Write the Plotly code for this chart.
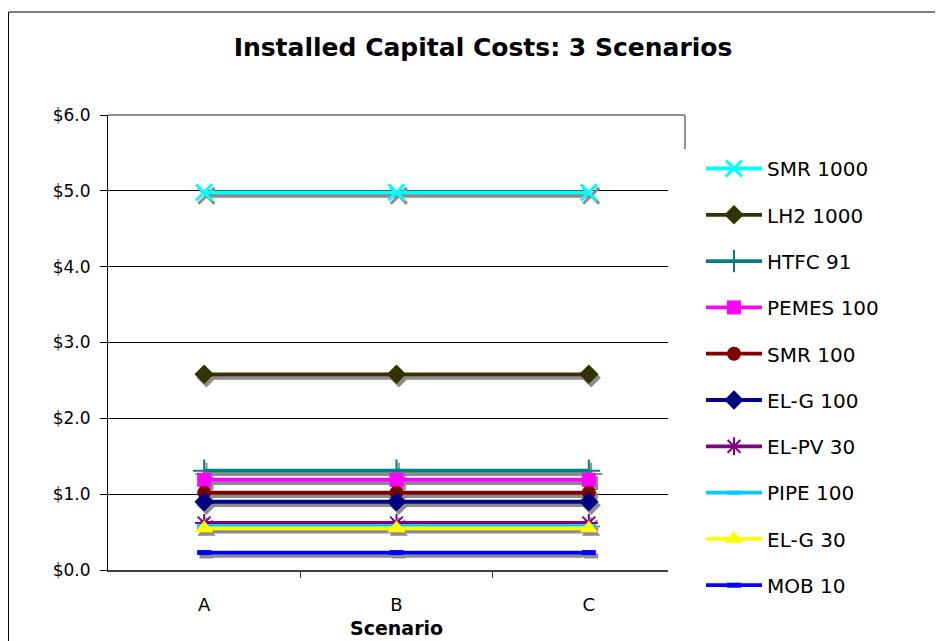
import plotly.graph_objects as go

scenarios = ["A", "B", "C"]
series_names = ["SMR 1000", "LH2 1000", "HTFC 91", "PEMES 100", "SMR 100",
                "EL-G 100", "EL-PV 30", "PIPE 100", "EL-G 30", "MOB 10"]
smr_1000 = [4.98, 4.98, 4.98]
lh2_1000 = [2.58, 2.58, 2.58]
htfc_91 = [1.31, 1.31, 1.31]
pemes_100 = [1.19, 1.19, 1.19]
smr_100 = [1.02, 1.02, 1.02]
elg_100 = [0.90, 0.90, 0.90]
elpv_30 = [0.62, 0.62, 0.62]
pipe_100 = [0.58, 0.58, 0.58]
elg_30 = [0.55, 0.55, 0.55]
mob_10 = [0.23, 0.23, 0.23]
y_ticks = [0, 1, 2, 3, 4, 5, 6]

series_values = [smr_1000, lh2_1000, htfc_91, pemes_100, smr_100,
                 elg_100, elpv_30, pipe_100, elg_30, mob_10]

styles = [
    dict(color="#00FFFF", symbol="x-thin-open", size=16, mlw=3),
    dict(color="#333300", symbol="diamond", size=15, mlw=0),
    dict(color="#008080", symbol="cross-thin-open", size=16, mlw=2),
    dict(color="#FF00FF", symbol="square", size=14, mlw=0),
    dict(color="#800000", symbol="circle", size=14, mlw=0),
    dict(color="#000080", symbol="diamond", size=15, mlw=0),
    dict(color="#800080", symbol="asterisk-open", size=15, mlw=2),
    dict(color="#00CCFF", symbol="line-ew-open", size=10, mlw=4),
    dict(color="#FFFF00", symbol="triangle-up", size=16, mlw=0),
    dict(color="#0000FF", symbol="line-ew-open", size=10, mlw=5),
]

x_pos = list(range(len(scenarios)))
shadow_dx = 0.012
shadow_dy = 0.045

fig = go.Figure()
for name, vals, st in zip(series_names, series_values, styles):
    fig.add_trace(go.Scatter(
        x=[x + shadow_dx for x in x_pos], y=[v - shadow_dy for v in vals],
        mode="lines+markers", showlegend=False, hoverinfo="skip",
        legendgroup=name,
        line=dict(color="#8c8c8c", width=3.8),
        marker=dict(symbol=st["symbol"], size=st["size"], color="#8c8c8c",
                    line=dict(color="#8c8c8c", width=st["mlw"])),
    ))
    fig.add_trace(go.Scatter(
        x=x_pos, y=vals, name=name, mode="lines+markers", legendgroup=name,
        line=dict(color=st["color"], width=3.8),
        marker=dict(symbol=st["symbol"], size=st["size"], color=st["color"],
                    line=dict(color=st["color"], width=st["mlw"])),
    ))

# the page body has an 8px margin; the figure is sized to fill the rest
OFF = 8
FW, FH = 943 - OFF, 641 - OFF
PL, PR, PT, PB = 108 - OFF, 685 - OFF, 115 - OFF, 570 - OFF
W, H = PR - PL, PB - PT


def px_x(p):
    return (p - OFF - PL) / W


def px_y(p):
    return (PB - (p - OFF)) / H


fig.update_layout(
    width=FW, height=FH,
    margin=dict(l=PL, r=FW - PR, t=PT, b=FH - PB),
    paper_bgcolor="white", plot_bgcolor="white",
    font=dict(family="DejaVu Sans", size=17, color="black"),
    title=dict(text="<b>Installed Capital Costs: 3 Scenarios</b>",
               x=(483 - OFF) / FW, xanchor="center",
               y=1 - (47 - OFF) / FH, yanchor="middle",
               font=dict(family="DejaVu Sans", size=25, color="black")),
    showlegend=True,
    legend=dict(x=px_x(668), xanchor="left", y=px_y(149), yanchor="top",
                bgcolor="white", borderwidth=0, tracegroupgap=17.3,
                itemwidth=56, indentation=33, maxheight=700,
                font=dict(family="DejaVu Sans", size=20),
                itemclick=False, itemdoubleclick=False),
    xaxis=dict(range=[-0.5, 2.5], tickvals=x_pos, ticktext=scenarios,
               ticks="", showgrid=False, zeroline=False,
               showline=True, linecolor="#404040", linewidth=2,
               ticklabelstandoff=17, tickfont=dict(size=18),
               minor=dict(tickvals=[0.5, 1.5], ticks="outside", ticklen=6,
                          tickcolor="#404040", tickwidth=1, showgrid=False),
               fixedrange=True),
    yaxis=dict(range=[0, 6], tickvals=y_ticks,
               ticktext=["$%.1f" % v for v in y_ticks],
               ticks="outside", ticklen=7, tickcolor="black",
               tickfont=dict(size=17),
               showgrid=True, gridcolor="black", gridwidth=1,
               zeroline=False, showline=True, linecolor="black", linewidth=1,
               ticklabelstandoff=6, fixedrange=True),
    shapes=[
        dict(type="line", xref="paper", yref="paper", x0=0, x1=1, y0=1, y1=1,
             line=dict(color="#909090", width=2), layer="above"),
        dict(type="line", xref="paper", yref="paper", x0=1, x1=1, y0=0, y1=1,
             line=dict(color="#909090", width=2), layer="above"),
        dict(type="rect", xref="paper", yref="paper",
             x0=px_x(OFF + 0.5), x1=px_x(960), y0=px_y(12), y1=px_y(660),
             line=dict(color="black", width=1), layer="above"),
    ],
    annotations=[
        dict(text="<b>Scenario</b>", xref="paper", yref="paper",
             x=0.5, y=px_y(628), xanchor="center", yanchor="middle",
             showarrow=False, font=dict(family="DejaVu Sans", size=19)),
    ],
)

fig.write_html("out.html")
